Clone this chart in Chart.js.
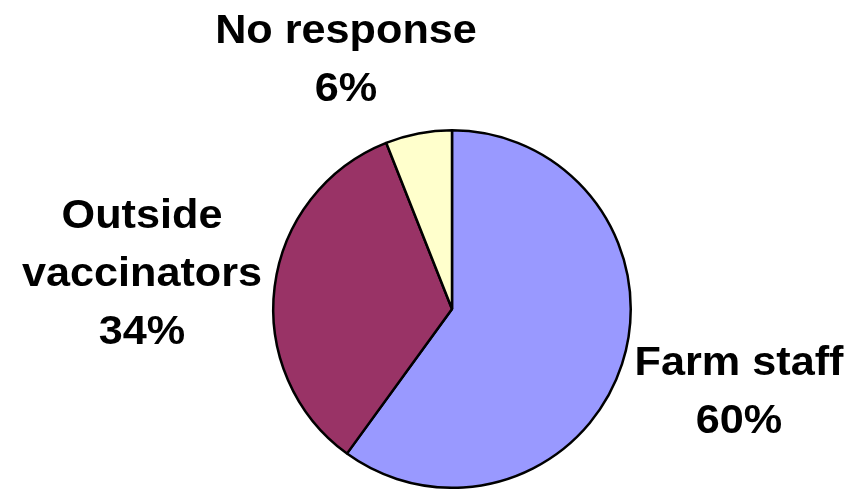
<!DOCTYPE html>
<html>
<head>
<meta charset="utf-8">
<script src="https://cdn.jsdelivr.net/npm/chart.js@4.4.1/dist/chart.umd.min.js"></script>
<style>
  html, body { margin: 0; padding: 0; background: #fff; }
  #wrap { width: 852px; height: 489px; }
</style>
</head>
<body>
<div id="wrap"><canvas id="pieChart" width="852" height="489"></canvas></div>
<script>
  const categories = ['Farm staff', 'Outside vaccinators', 'No response'];
  const labelLines = [['Farm staff'], ['Outside', 'vaccinators'], ['No response']];
  const shares = [60, 34, 6];
  const sliceColors = ['#9999FF', '#993366', '#FFFFCC'];

  // first-line baseline of each label block, relative to the pie centre
  const labelOffsets = [
    { dx: 287, dy: 66 },
    { dx: -310, dy: -81 },
    { dx: -106, dy: -266 }
  ];

  const pieLabels = {
    id: 'pieLabels',
    afterDatasetsDraw(chart) {
      const ctx = chart.ctx;
      const meta = chart.getDatasetMeta(0);
      const lineH = 58;
      ctx.save();
      ctx.fillStyle = '#000';
      ctx.font = 'bold 40px "Liberation Sans", Arial, sans-serif';
      ctx.textAlign = 'center';
      ctx.textBaseline = 'alphabetic';
      meta.data.forEach((arc, i) => {
        const lines = labelLines[i].concat([shares[i] + '%']);
        const cx = arc.x + labelOffsets[i].dx;
        const y0 = arc.y + labelOffsets[i].dy;
        lines.forEach((txt, j) => {
          ctx.save();
          ctx.translate(cx, y0 + lineH * j);
          ctx.scale(1.08, 1);
          ctx.fillText(txt, 0, 0);
          ctx.restore();
        });
      });
      ctx.restore();
    }
  };

  new Chart(document.getElementById('pieChart').getContext('2d'), {
    type: 'pie',
    data: {
      labels: categories,
      datasets: [{
        data: shares,
        backgroundColor: sliceColors,
        borderColor: '#000',
        borderWidth: 2.5
      }]
    },
    options: {
      responsive: false,
      animation: false,
      layout: { padding: { top: 129, bottom: 0, left: 272, right: 220 } },
      plugins: {
        legend: { display: false },
        tooltip: { enabled: false }
      }
    },
    plugins: [pieLabels]
  });
</script>
</body>
</html>
